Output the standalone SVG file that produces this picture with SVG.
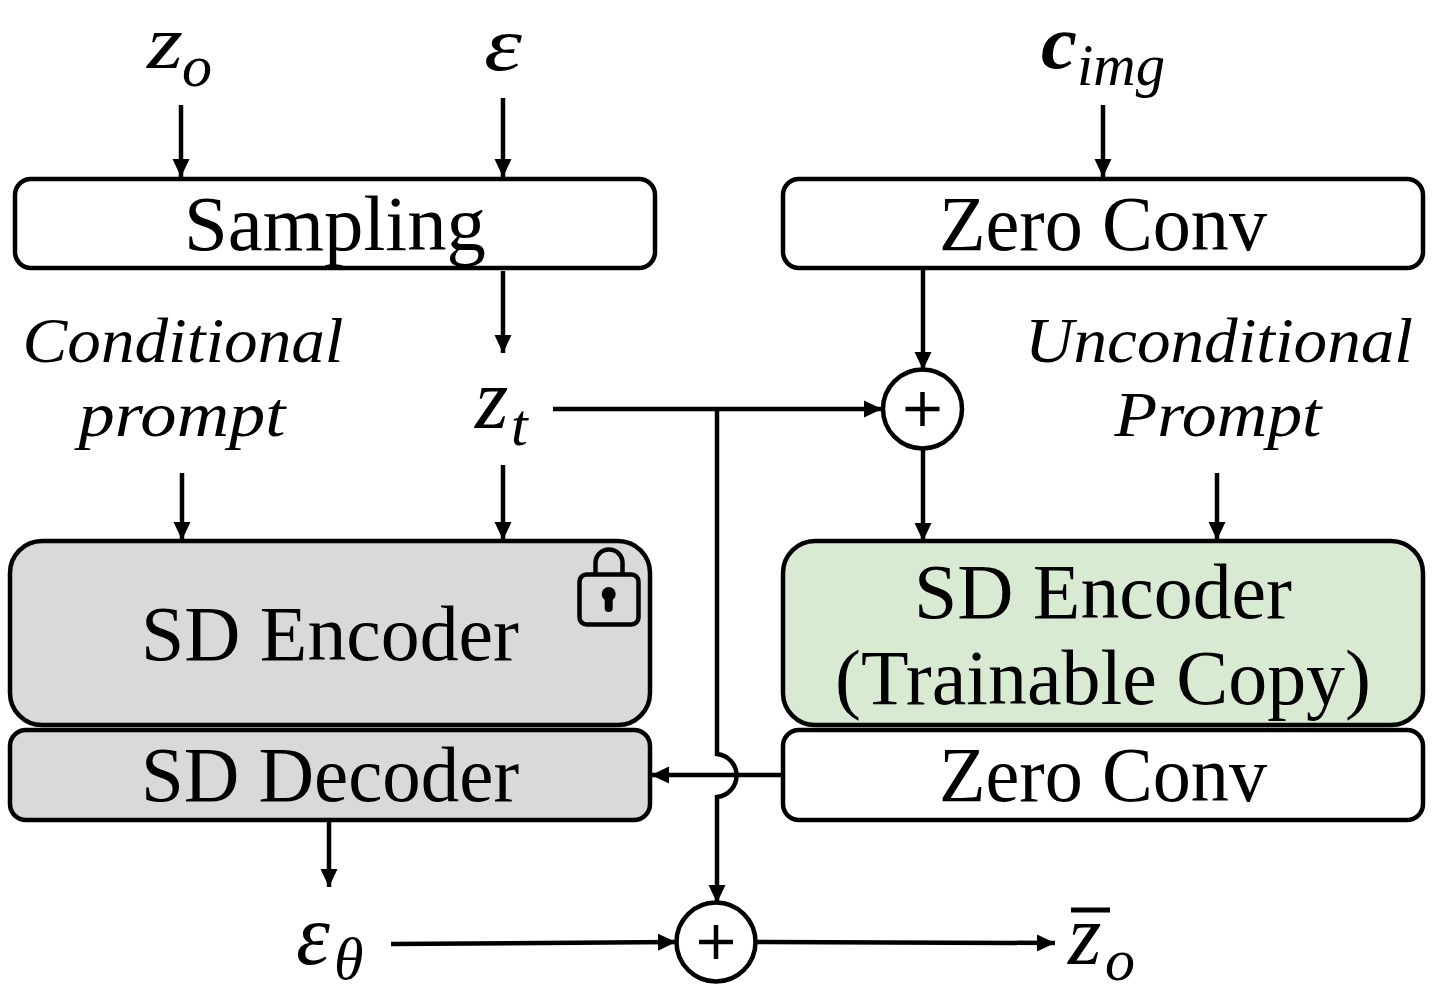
<svg xmlns="http://www.w3.org/2000/svg" width="1437" height="996" viewBox="0 0 1437 996">
<style>
.box{stroke:#000;stroke-width:4.500}
.w{fill:#fff}.g{fill:#d9d9d9}.gr{fill:#d9ead3}
text{font-family:"Liberation Serif","Times New Roman",serif;fill:#000}
.t{font-size:78px;text-anchor:middle}
.p{font-size:64px;font-style:italic;text-anchor:middle}
.m{font-size:86px;font-style:italic}
.top{font-size:76px;font-style:italic}
.s{font-size:60px;font-style:italic}
.c{fill:none;stroke:#000;stroke-width:4.500}
.op{fill:#fff;stroke:#000;stroke-width:4.500}
</style>
<defs><marker id="a" markerUnits="userSpaceOnUse" markerWidth="20" markerHeight="20" refX="18" refY="10" orient="auto"><path d="M0 1.500L18 10L0 18.500Z" fill="#000"/></marker></defs>
<rect width="1437" height="996" fill="#fff"/>
<g id="connectors">
<path class="c" marker-end="url(#a)" d="M181 105V177"/>
<path class="c" marker-end="url(#a)" d="M503 98V177"/>
<path class="c" marker-end="url(#a)" d="M1103 105V177"/>
<path class="c" marker-end="url(#a)" d="M503 271V353"/>
<path class="c" marker-end="url(#a)" d="M923 268V370"/>
<path class="c" marker-end="url(#a)" d="M553 409H882"/>
<path class="c" marker-end="url(#a)" d="M923 447V541"/>
<path class="c" marker-end="url(#a)" d="M1217 473V540"/>
<path class="c" marker-end="url(#a)" d="M182 473V540"/>
<path class="c" marker-end="url(#a)" d="M503 465V540"/>
<path class="c" marker-end="url(#a)" d="M783 775H651"/>
<path class="c" marker-end="url(#a)" d="M717 409V754A21.600 21.600 0 0 1 717 797V903"/>
<path class="c" marker-end="url(#a)" d="M329 820V887"/>
<path class="c" marker-end="url(#a)" d="M391 944L676 942"/>
<path class="c" marker-end="url(#a)" d="M757 942L1055 943"/>
</g>
<g id="z0"><text class="top" x="147" y="68" textLength="36" lengthAdjust="spacingAndGlyphs">z</text><text class="s" x="182" y="86">o</text></g>
<g id="eps"><text class="top" x="484" y="70" textLength="38" lengthAdjust="spacingAndGlyphs">ε</text></g>
<g id="cimg"><text class="top" x="1041" y="68" font-weight="bold" textLength="36" lengthAdjust="spacingAndGlyphs">c</text><text class="s" x="1077" y="85" textLength="88" lengthAdjust="spacingAndGlyphs">img</text></g>
<g id="sampling"><rect class="box w" x="15" y="179" width="640" height="89" rx="16"/><text class="t" x="335" y="250" textLength="302" lengthAdjust="spacingAndGlyphs">Sampling</text></g>
<g id="zeroconv1"><rect class="box w" x="783" y="179" width="640" height="89" rx="16"/><text class="t" x="1103" y="250" textLength="328" lengthAdjust="spacingAndGlyphs">Zero Conv</text></g>
<g id="condprompt"><text class="p" x="183" y="362" textLength="321" lengthAdjust="spacingAndGlyphs">Conditional</text><text class="p" x="182" y="436" textLength="207" lengthAdjust="spacingAndGlyphs">prompt</text></g>
<g id="zt"><text class="m" x="475" y="428">z</text><text class="s" x="511" y="445">t</text></g>
<g id="plus1"><circle class="op" cx="922.500" cy="409" r="39.500"/><path class="c" d="M905.500 409H939.500M922.500 392V426" stroke-width="5"/></g>
<g id="uncondprompt"><text class="p" x="1219" y="362" textLength="388" lengthAdjust="spacingAndGlyphs">Unconditional</text><text class="p" x="1218" y="436" textLength="207" lengthAdjust="spacingAndGlyphs">Prompt</text></g>
<g id="sdencoder"><rect class="box g" x="10" y="541" width="640" height="184" rx="32"/><text class="t" x="330" y="660" textLength="378" lengthAdjust="spacingAndGlyphs">SD Encoder</text>
<g id="lock"><path class="c" d="M595.500 574V563A13.500 13.500 0 0 1 622.500 563V574"/><rect class="c" x="579.500" y="574.500" width="59" height="50" rx="7"/><circle cx="608.700" cy="594" r="7" fill="#000"/><path class="c" d="M608.700 596V608" style="stroke-width:8;stroke-linecap:round"/></g></g>
<g id="sdcopy"><rect class="box gr" x="783" y="541" width="640" height="184" rx="32"/><text class="t" x="1103" y="618" textLength="378" lengthAdjust="spacingAndGlyphs">SD Encoder</text><text class="t" x="1103" y="704" textLength="536" lengthAdjust="spacingAndGlyphs">(Trainable Copy)</text></g>
<g id="sddecoder"><rect class="box g" x="10" y="730" width="640" height="90" rx="16"/><text class="t" x="330" y="801" textLength="378" lengthAdjust="spacingAndGlyphs">SD Decoder</text></g>
<g id="zeroconv2"><rect class="box w" x="783" y="730" width="640" height="90" rx="16"/><text class="t" x="1103" y="801" textLength="328" lengthAdjust="spacingAndGlyphs">Zero Conv</text></g>
<g id="epstheta"><text class="m" x="296" y="964">ε</text><text class="s" x="334" y="979">θ</text></g>
<g id="plus2"><circle class="op" cx="716" cy="942" r="39.500"/><path class="c" d="M699 942H733M716 925V959" stroke-width="5"/></g>
<g id="zbar"><path d="M1071 910H1110" stroke="#000" stroke-width="5"/><text class="m" x="1068" y="964">z</text><text class="s" x="1105" y="980">o</text></g>
</svg>
